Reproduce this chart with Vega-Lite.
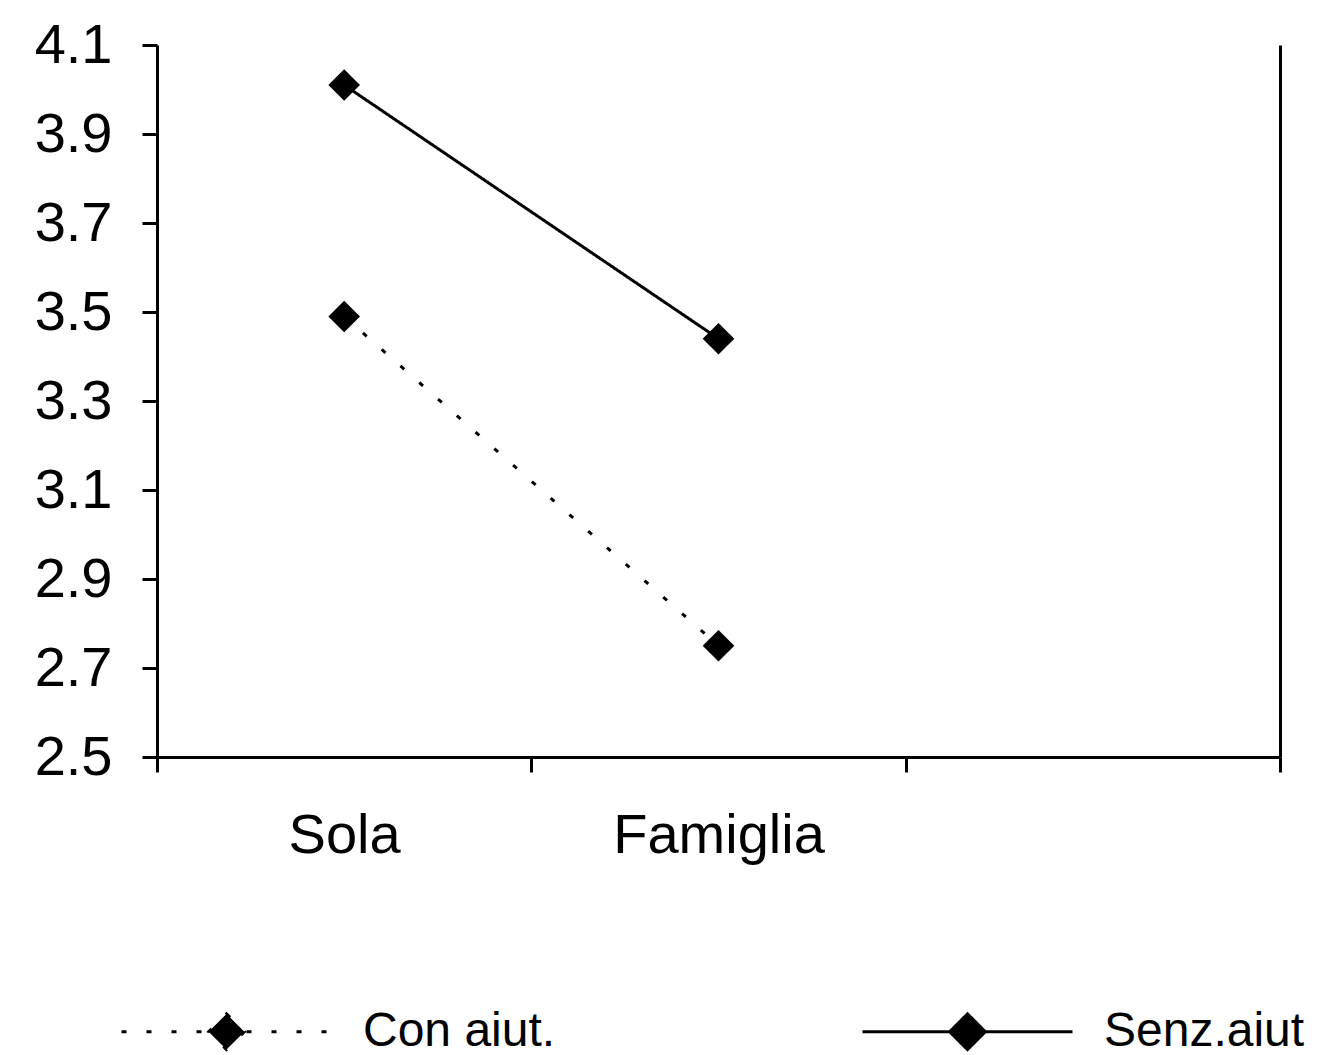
{
  "$schema": "https://vega.github.io/schema/vega-lite/v6.json",
  "width": 1123,
  "height": 712,
  "autosize": {"type": "none"},
  "padding": {"left": 157, "top": 45, "right": 57, "bottom": 298},
  "background": "white",
  "config": {
    "view": {"stroke": null},
    "font": "Liberation Sans",
    "axis": {
      "domainColor": "black",
      "domainWidth": 3,
      "tickColor": "black",
      "tickWidth": 3,
      "tickSize": 15,
      "labelFontSize": 56,
      "labelColor": "black",
      "labelFont": "Liberation Sans",
      "labelLimit": 500,
      "grid": false,
      "title": null
    }
  },
  "data": {
    "values": [
      {"serie": "Con aiut.", "gruppo": "Sola", "valore": 3.49},
      {"serie": "Con aiut.", "gruppo": "Famiglia", "valore": 2.75},
      {"serie": "Senz.aiut", "gruppo": "Sola", "valore": 4.01},
      {"serie": "Senz.aiut", "gruppo": "Famiglia", "valore": 3.44}
    ]
  },
  "resolve": {"axis": {"y": "independent"}},
  "layer": [
    {
      "mark": {
        "type": "line",
        "strokeWidth": 3,
        "color": "black",
        "point": {"shape": "diamond", "size": 1000, "filled": true, "color": "black", "opacity": 1}
      },
      "encoding": {
        "x": {
          "field": "gruppo",
          "type": "nominal",
          "bandPosition": 0.5,
          "scale": {"type": "band", "domain": ["Sola", "Famiglia", "_"], "paddingInner": 0, "paddingOuter": 0},
          "axis": {
            "tickBand": "extent",
            "labelAngle": 0,
            "labelPadding": 36,
            "labelLimit": 500,
            "labelExpr": "datum.value == '_' ? '' : datum.value"
          }
        },
        "y": {
          "field": "valore",
          "type": "quantitative",
          "scale": {"domain": [2.5, 4.1], "nice": false, "zero": false},
          "axis": {
            "values": [2.5, 2.7, 2.9, 3.1, 3.3, 3.5, 3.7, 3.9, 4.1],
            "format": ".1f",
            "labelPadding": 30
          }
        },
        "strokeDash": {
          "field": "serie",
          "type": "nominal",
          "scale": {"domain": ["Con aiut.", "Senz.aiut"], "range": [[5, 20], [1, 0]]},
          "legend": {
            "title": null,
            "orient": "none",
            "direction": "horizontal",
            "legendX": -37,
            "legendY": 880,
            "symbolType": "M-1,0L1,0M0,-0.17L0.17,0L0,0.17L-0.17,0Z",
            "symbolSize": 44100,
            "symbolStrokeWidth": 3,
            "symbolStrokeColor": "black",
            "symbolFillColor": "black",
            "labelFontSize": 48,
            "labelColor": "black",
            "labelFont": "Liberation Sans",
            "labelOffset": 30,
            "labelLimit": 400,
            "columnPadding": 300,
            "encode": {
              "symbols": {
                "update": {
                  "stroke": {"value": "black"},
                  "strokeWidth": {"value": 3},
                  "fill": {"value": "black"},
                  "opacity": {"value": 1}
                }
              }
            }
          }
        }
      }
    },
    {
      "mark": {"type": "point", "opacity": 0},
      "encoding": {
        "x": {"field": "gruppo", "type": "nominal", "bandPosition": 0.5},
        "y": {
          "field": "valore",
          "type": "quantitative",
          "axis": {"orient": "right", "labels": false, "ticks": false, "title": null}
        }
      }
    }
  ]
}
